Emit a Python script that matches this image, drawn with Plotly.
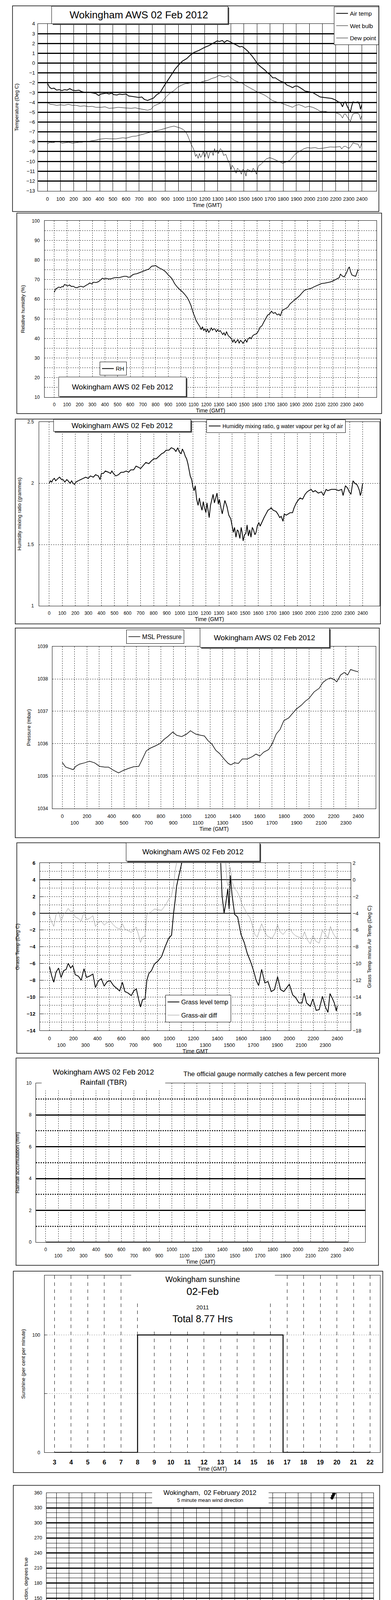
import plotly.graph_objects as go

# ====================== DATA ======================
# Panel 1: temperatures (time HHMM-style minutes axis 0..2400)
air_time = [0, 15, 30, 50, 70, 90, 110, 130, 150, 170, 190, 215, 240, 260, 290, 312, 330, 350, 370, 390,
            408, 430, 450, 470, 490, 504, 530, 550, 570, 600, 620, 650, 670, 697, 720, 740, 764, 790, 810, 831,
            860, 889, 920, 947, 975, 1005, 1030, 1062, 1090, 1120, 1150, 1178, 1200, 1236, 1255, 1274, 1295, 1313,
            1335, 1350, 1370, 1390, 1409, 1440, 1467, 1485, 1505, 1530, 1563, 1585, 1601, 1630, 1659, 1680, 1697,
            1720, 1740, 1755, 1780, 1803, 1830, 1850, 1871, 1890, 1909, 1940, 1967, 1990, 2025, 2050, 2082, 2110,
            2140, 2170, 2198, 2220, 2236, 2252, 2265, 2275, 2285, 2300, 2313, 2322, 2332, 2350, 2371, 2382, 2390, 2400]
air_temp = [-2.05, -2.45, -2.6, -2.55, -2.75, -2.7, -2.8, -2.7, -2.75, -2.6, -2.75, -2.8, -2.75, -2.9, -3.0, -2.95,
            -3.0, -3.05, -3.1, -3.3, -3.15, -3.1, -3.05, -3.15, -3.05, -3.2, -3.25, -3.15, -3.2, -3.15, -3.35, -3.4,
            -3.45, -3.5, -3.45, -3.7, -3.8, -3.65, -3.55, -3.25, -3.0, -2.35, -1.7, -1.15, -0.6, -0.13, 0.2, 0.45,
            0.8, 1.1, 1.25, 1.45, 1.6, 1.8, 1.95, 2.1, 2.25, 2.2, 2.3, 2.1, 2.3, 2.2, 2.05, 1.85, 1.65, 1.7, 1.5,
            1.2, 0.7, 0.3, -0.05, -0.4, -0.7, -1.0, -1.15, -1.5, -1.5, -1.65, -1.85, -1.95, -2.25, -2.35, -2.5,
            -2.35, -2.35, -2.6, -2.85, -2.9, -3.0, -3.2, -3.45, -3.5, -3.55, -3.6, -3.75, -3.95, -4.0, -4.45, -4.0,
            -3.95, -4.3, -4.7, -4.95, -4.4, -3.95, -4.0, -3.95, -4.2, -4.7, -4.2]
wet_time = [0, 20, 42, 70, 100, 129, 160, 190, 215, 250, 280, 312, 340, 370, 408, 440, 470, 504, 540, 570, 600,
            640, 670, 697, 730, 764, 790, 812, 840, 870, 890, 908, 940, 966, 995, 1024, 1050, 1082, 1110, 1139,
            1170, 1197, 1225, 1255, 1285, 1313, 1330, 1351, 1380, 1400, 1428, 1460, 1486, 1515, 1544, 1575, 1601,
            1630, 1659, 1690, 1717, 1745, 1774, 1800, 1832, 1851, 1871, 1895, 1919, 1945, 1967, 1995, 2025, 2050,
            2082, 2110, 2140, 2170, 2198, 2220, 2236, 2252, 2265, 2275, 2290, 2313, 2322, 2332, 2350, 2371, 2382,
            2390, 2400]
wet_bulb = [-4.0, -4.2, -4.22, -4.3, -4.25, -4.29, -4.2, -4.3, -4.29, -4.4, -4.35, -4.43, -4.4, -4.5, -4.5, -4.45,
            -4.6, -4.57, -4.5, -4.55, -4.57, -4.6, -4.55, -4.63, -4.7, -4.8, -4.7, -4.36, -4.2, -4.02, -3.7, -3.4,
            -3.0, -2.79, -2.45, -2.24, -2.1, -2.04, -2.0, -2.04, -1.95, -1.83, -1.75, -1.56, -1.45, -1.22, -1.35,
            -1.42, -1.29, -1.5, -1.77, -1.95, -2.04, -2.3, -2.52, -2.75, -2.93, -3.1, -3.27, -3.55, -3.81, -3.95,
            -4.02, -4.15, -4.29, -4.4, -4.5, -4.3, -4.22, -4.35, -4.5, -4.4, -4.5, -4.65, -4.91, -4.9, -4.97, -5.0,
            -5.04, -5.15, -5.25, -5.59, -5.2, -5.18, -5.5, -5.93, -5.5, -5.18, -5.1, -5.11, -5.3, -5.73, -5.32]
dew_time = [0, 20, 40, 62, 90, 110, 139, 160, 190, 215, 240, 265, 293, 320, 345, 370, 395, 420, 446, 470, 500, 523,
            550, 575, 600, 625, 650, 677, 700, 725, 754, 780, 805, 831, 860, 885, 908, 935, 966, 990, 1014, 1035,
            1053, 1068, 1082, 1095, 1110, 1120, 1130, 1139, 1150, 1160, 1170, 1178, 1190, 1200, 1216, 1228, 1240,
            1255, 1265, 1275, 1285, 1293, 1305, 1320, 1332, 1345, 1361, 1375, 1390, 1400, 1410, 1428, 1440, 1450,
            1467, 1480, 1492, 1505, 1515, 1525, 1544, 1560, 1570, 1582, 1595, 1611, 1630, 1649, 1670, 1697, 1715,
            1736, 1755, 1774, 1795, 1813, 1830, 1851, 1870, 1890, 1915, 1938, 1960, 1986, 2010, 2044, 2070, 2102,
            2130, 2159, 2190, 2217, 2235, 2246, 2260, 2275, 2290, 2304, 2320, 2332, 2350, 2371, 2386, 2400]
dew_point = [-8.2, -8.05, -8.1, -8.02, -8.0, -8.15, -8.1, -8.05, -8.15, -8.1, -8.05, -8.05, -7.98, -7.95, -7.9,
             -7.84, -7.75, -7.7, -7.67, -7.7, -7.72, -7.71, -7.65, -7.6, -7.64, -7.55, -7.45, -7.43, -7.35, -7.25,
             -7.16, -7.05, -6.95, -6.89, -6.8, -6.7, -6.61, -6.5, -6.41, -6.5, -6.61, -6.75, -6.96, -7.3, -7.78,
             -8.2, -8.6, -8.9, -9.5, -9.28, -9.7, -9.2, -9.6, -9.42, -9.0, -9.6, -9.0, -9.7, -9.1, -9.0, -9.4, -8.7,
             -9.1, -8.87, -9.2, -8.7, -8.87, -9.4, -9.28, -9.8, -10.23, -10.9, -10.4, -10.78, -11.2, -10.7, -10.92,
             -11.3, -10.8, -10.99, -11.5, -10.8, -10.92, -11.1, -10.7, -10.92, -11.3, -10.44, -10.3, -10.03, -9.75,
             -9.62, -9.7, -9.82, -9.95, -10.03, -10.2, -10.1, -10.0, -9.89, -9.6, -9.28, -9.05, -8.87, -8.7, -8.6,
             -8.65, -8.6, -8.7, -8.66, -8.6, -8.53, -8.55, -8.53, -8.5, -8.74, -8.5, -8.46, -8.6, -8.66, -8.4, -8.12,
             -8.2, -8.25, -8.66, -8.12]

# Panel 2: relative humidity
rh_time = [0, 10, 20, 35, 50, 60, 70, 80, 90, 105, 120, 135, 150, 165, 180, 195, 210, 230, 250, 265, 280, 295, 310,
           330, 350, 365, 380, 395, 410, 430, 450, 470, 490, 510, 530, 550, 570, 585, 600, 615, 630, 650, 670, 690,
           710, 730, 750, 760, 770, 785, 800, 815, 830, 850, 870, 885, 900, 915, 930, 950, 970, 990, 1010, 1030,
           1050, 1065, 1080, 1090, 1100, 1110, 1120, 1135, 1150, 1160, 1170, 1180, 1190, 1200, 1210, 1220, 1230,
           1240, 1250, 1260, 1270, 1280, 1290, 1300, 1310, 1320, 1330, 1340, 1350, 1360, 1370, 1380, 1390, 1400,
           1410, 1420, 1430, 1440, 1450, 1460, 1470, 1480, 1490, 1500, 1510, 1520, 1530, 1545, 1555, 1565, 1580,
           1595, 1610, 1625, 1640, 1655, 1670, 1685, 1700, 1715, 1730, 1745, 1760, 1775, 1785, 1800, 1820, 1845,
           1860, 1880, 1900, 1920, 1940, 1960, 1975, 1990, 2010, 2030, 2050, 2070, 2090, 2110, 2135, 2160, 2180,
           2200, 2220, 2240, 2250, 2260, 2275, 2290, 2300, 2310, 2320, 2330, 2340, 2350, 2365, 2380, 2390, 2400]
rh_value = [63.5, 65.2, 65.6, 66.2, 65.9, 66.5, 66.3, 67.5, 67.3, 66.8, 67.3, 66.5, 66.6, 66.0, 65.9, 66.4, 66.6,
            66.2, 67.1, 67.6, 68.3, 67.8, 68.7, 68.5, 69.0, 69.8, 70.7, 70.4, 70.7, 70.3, 70.5, 70.9, 71.1, 71.0,
            71.4, 71.7, 71.7, 71.2, 71.4, 72.3, 72.8, 73.0, 73.5, 74.0, 74.5, 75.1, 75.5, 76.3, 76.9, 77.0, 77.2,
            76.5, 75.9, 75.3, 74.5, 73.6, 72.4, 71.5, 70.4, 68.0, 66.3, 65.0, 63.9, 62.5, 60.8, 59.0, 56.7, 54.5,
            52.5, 51.0, 49.1, 47.5, 46.0, 44.5, 46.0, 44.0, 45.0, 43.2, 44.8, 43.0, 44.0, 45.5, 44.2, 45.0, 44.7,
            43.3, 44.5, 43.5, 44.0, 43.0, 42.0, 42.9, 41.5, 43.5, 41.9, 41.0, 40.5, 39.8, 38.0, 39.5, 37.8, 38.5,
            39.5, 37.5, 39.0, 38.5, 37.5, 38.5, 39.5, 38.0, 39.8, 40.5, 39.8, 41.2, 42.0, 42.3, 43.5, 45.7, 46.5,
            48.4, 50.2, 51.9, 52.5, 53.9, 52.8, 53.2, 52.0, 52.5, 51.5, 54.3, 55.0, 56.0, 57.5, 58.7, 59.8, 60.8,
            62.0, 63.5, 64.5, 64.9, 65.2, 65.6, 66.3, 66.9, 67.5, 68.0, 68.2, 68.5, 68.8, 69.3, 70.0, 70.7, 71.0,
            72.8, 71.8, 71.4, 72.5, 73.8, 75.5, 76.5, 74.0, 72.4, 72.0, 71.7, 73.5, 75.2]

# Panel 3: humidity mixing ratio (g/kg)
mix_time = [0, 10, 20, 29, 40, 50, 68, 80, 95, 106, 120, 135, 145, 160, 172, 183, 195, 205, 222, 240, 261, 280, 299,
            315, 338, 355, 376, 390, 400, 415, 430, 454, 470, 480, 492, 510, 531, 550, 569, 590, 608, 625, 647, 665,
            685, 700, 724, 740, 763, 780, 801, 820, 840, 860, 878, 895, 917, 935, 956, 970, 985, 994, 1010, 1020,
            1033, 1042, 1052, 1062, 1071, 1080, 1091, 1100, 1110, 1118, 1129, 1140, 1150, 1158, 1170, 1180, 1187,
            1200, 1208, 1216, 1225, 1235, 1245, 1255, 1265, 1274, 1285, 1295, 1303, 1315, 1325, 1332, 1345, 1361,
            1375, 1390, 1400, 1410, 1419, 1430, 1440, 1448, 1460, 1470, 1477, 1485, 1495, 1506, 1515, 1525, 1535,
            1545, 1555, 1564, 1575, 1584, 1593, 1605, 1615, 1631, 1645, 1660, 1675, 1690, 1699, 1715, 1737, 1750,
            1765, 1776, 1790, 1800, 1815, 1830, 1845, 1863, 1875, 1892, 1905, 1921, 1940, 1959, 1975, 1988, 2005,
            2020, 2037, 2060, 2085, 2100, 2120, 2133, 2160, 2191, 2215, 2239, 2250, 2268, 2285, 2297, 2310, 2326,
            2340, 2355, 2365, 2375, 2382, 2388, 2400]
mix_ratio = [2.0, 2.02, 2.01, 2.03, 2.04, 2.02, 2.04, 2.05, 2.03, 2.03, 2.01, 2.03, 2.02, 2.0, 2.02, 2.0, 1.99, 2.01,
             2.02, 2.03, 2.04, 2.05, 2.04, 2.06, 2.05, 2.07, 2.06, 2.03, 2.08, 2.08, 2.1, 2.09, 2.08, 2.1, 2.08, 2.06,
             2.07, 2.09, 2.09, 2.1, 2.09, 2.11, 2.11, 2.14, 2.13, 2.12, 2.15, 2.17, 2.16, 2.18, 2.2, 2.2, 2.22, 2.24,
             2.25, 2.27, 2.27, 2.29, 2.28, 2.26, 2.29, 2.26, 2.24, 2.28, 2.25, 2.22, 2.2, 2.16, 2.11, 2.06, 2.03,
             1.97, 1.94, 1.98, 1.87, 1.82, 1.88, 1.83, 1.78, 1.85, 1.81, 1.76, 1.84, 1.79, 1.72, 1.82, 1.87, 1.91,
             1.84, 1.88, 1.92, 1.83, 1.87, 1.8, 1.75, 1.79, 1.86, 1.81, 1.74, 1.71, 1.66, 1.6, 1.64, 1.56, 1.62,
             1.61, 1.55, 1.64, 1.6, 1.53, 1.58, 1.59, 1.66, 1.57, 1.62, 1.56, 1.64, 1.62, 1.58, 1.6, 1.65, 1.68,
             1.65, 1.69, 1.72, 1.75, 1.78, 1.79, 1.8, 1.78, 1.77, 1.75, 1.72, 1.73, 1.69, 1.75, 1.74, 1.75, 1.76,
             1.76, 1.8, 1.84, 1.86, 1.88, 1.87, 1.91, 1.93, 1.94, 1.95, 1.93, 1.94, 1.92, 1.93, 1.9, 1.95, 1.94,
             1.95, 1.95, 1.94, 1.95, 1.9, 1.98, 1.96, 1.93, 1.91, 2.02, 2.0, 1.99, 1.97, 1.94, 1.9, 1.92, 2.0]

# Panel 4: MSL pressure (mbar)
pres_time = [0, 27, 57, 88, 108, 139, 180, 221, 262, 303, 344, 374, 415, 456, 497, 538, 579, 620, 650, 681, 712,
             753, 794, 824, 855, 896, 927, 968, 1009, 1039, 1080, 1121, 1152, 1183, 1213, 1244, 1275, 1316, 1346,
             1367, 1397, 1428, 1459, 1500, 1540, 1571, 1602, 1633, 1673, 1704, 1735, 1766, 1796, 1837, 1868, 1898,
             1939, 1970, 2001, 2042, 2083, 2113, 2144, 2175, 2205, 2226, 2257, 2287, 2314, 2338, 2369, 2400]
msl_pressure = [1035.42, 1035.28, 1035.24, 1035.2, 1035.3, 1035.37, 1035.41, 1035.46, 1035.41, 1035.3, 1035.28,
                1035.28, 1035.18, 1035.1, 1035.18, 1035.24, 1035.29, 1035.3, 1035.53, 1035.78, 1035.86, 1035.93,
                1036.01, 1036.13, 1036.22, 1036.36, 1036.26, 1036.22, 1036.3, 1036.4, 1036.3, 1036.26, 1036.24,
                1036.09, 1035.99, 1035.8, 1035.7, 1035.51, 1035.39, 1035.35, 1035.41, 1035.39, 1035.53, 1035.53,
                1035.6, 1035.68, 1035.62, 1035.74, 1035.82, 1036.01, 1036.3, 1036.44, 1036.71, 1036.8, 1036.94,
                1037.07, 1037.19, 1037.31, 1037.4, 1037.6, 1037.71, 1037.89, 1037.98, 1038.03, 1037.98, 1037.91,
                1038.12, 1038.2, 1038.12, 1038.29, 1038.25, 1038.22]

# Panel 5: grass temperature and grass minus air
grass_time = [0, 19, 36, 55, 76, 97, 118, 139, 156, 177, 194, 215, 240, 265, 288, 309, 334, 362, 383, 408, 433, 456,
              482, 507, 534, 560, 585, 608, 629, 654, 682, 703, 724, 745, 759, 776, 797, 812, 829, 850, 875, 902, 934,
              965, 993, 1018, 1035, 1050, 1060, 1077, 1092, 1102, 1150, 1250, 1350, 1410, 1428, 1439, 1456, 1470,
              1487, 1498, 1508, 1523, 1544, 1569, 1597, 1624, 1649, 1676, 1702, 1723, 1744, 1769, 1796, 1822, 1849,
              1876, 1902, 1927, 1954, 1979, 2000, 2028, 2053, 2080, 2106, 2123, 2144, 2175, 2196, 2224, 2249, 2276,
              2301, 2322, 2339, 2356, 2375, 2392, 2400]
grass_temp = [-6.38, -7.5, -8.23, -7.02, -6.54, -7.66, -6.86, -6.7, -5.98, -6.54, -6.22, -7.34, -7.5, -7.99, -6.62,
              -7.66, -7.5, -7.26, -8.87, -8.07, -7.82, -8.7, -8.15, -8.07, -8.63, -8.95, -9.27, -8.23, -9.35, -9.51,
              -9.83, -9.27, -9.03, -10.39, -11.19, -10.31, -10.23, -7.99, -7.18, -6.86, -6.06, -5.74, -5.18, -3.98,
              -3.01, -2.61, 0.03, 1.8, 3.24, 4.36, 5.33, 6.0, 9.0, 12.0, 11.0, 8.0, 6.0, 2.12, 0.03, 1.16, 2.92,
              0.51, 4.52, 2.12, -0.13, -0.45, -2.53, -3.49, -4.78, -5.74, -6.86, -7.99, -8.63, -6.7, -8.31, -8.15,
              -9.35, -9.11, -7.58, -9.11, -9.35, -8.87, -8.47, -9.75, -10.07, -10.71, -10.71, -9.51, -10.71, -11.11,
              -10.23, -11.59, -11.51, -9.91, -11.19, -11.83, -9.59, -10.07, -10.71, -11.67, -11.03]
diff_time = [0, 19, 36, 55, 76, 97, 118, 139, 156, 177, 194, 215, 240, 265, 288, 309, 334, 362, 383, 408, 433, 456,
             482, 507, 534, 560, 585, 608, 629, 654, 682, 703, 724, 745, 759, 776, 797, 812, 829, 850, 875, 902, 934,
             965, 993, 1018, 1035, 1050, 1060, 1150, 1300, 1420, 1470, 1481, 1491, 1508, 1523, 1544, 1565, 1586,
             1607, 1628, 1649, 1670, 1691, 1712, 1733, 1754, 1769, 1792, 1813, 1834, 1855, 1881, 1902, 1923, 1948,
             1975, 2003, 2028, 2053, 2080, 2106, 2127, 2150, 2175, 2196, 2221, 2249, 2276, 2301, 2322, 2343, 2364,
             2385, 2400]
grass_air_diff = [-4.29, -5.09, -5.57, -4.13, -3.81, -4.93, -4.13, -3.81, -3.41, -3.81, -3.73, -4.45, -4.61, -4.93,
                  -3.81, -4.77, -4.61, -4.29, -5.57, -5.09, -4.93, -5.41, -5.09, -4.93, -5.41, -5.73, -5.89, -5.25,
                  -5.89, -6.05, -6.29, -5.97, -5.65, -6.69, -7.49, -6.85, -6.69, -4.13, -3.97, -3.81, -3.49, -3.57,
                  -3.65, -3.08, -2.36, -1.88, -0.6, 1.33, 2.0, 4.0, 5.0, 4.0, 2.0, -0.28, -0.76, 1.49, -0.28, -1.08,
                  -1.4, -2.04, -3.0, -3.49, -4.13, -4.45, -5.41, -6.53, -6.85, -5.89, -5.25, -6.05, -6.69, -6.85,
                  -7.01, -6.37, -5.41, -6.21, -6.53, -6.05, -5.81, -6.37, -6.69, -6.85, -7.01, -6.21, -7.17, -7.65,
                  -6.69, -7.33, -7.57, -6.05, -6.53, -7.01, -5.57, -6.37, -6.85, -6.93]

# Panel 6: rainfall accumulation (mm)
rain_time = [0, 2400]
rain_mm = [0, 0]

# Panel 7: sunshine (hours, per cent per minute)
sun_hour = [3, 8, 16.76, 22]
sun_pct = [0, 100, 0, 0]

# Panel 8: wind direction (hours, degrees)
dir_hour = [0.0, 0.17, 0.33, 0.5, 0.67, 0.83, 1.0, 1.17, 1.33, 1.5, 1.67, 1.83, 2.0, 2.17, 2.33, 2.5, 2.67, 2.83,
            3.0, 3.17, 3.33, 3.5, 3.67, 3.83, 4.0, 4.17, 4.33, 4.5, 4.67, 4.83, 5.0, 5.17, 5.33, 5.5, 5.67, 5.83,
            6.0, 6.17, 6.33, 6.5, 6.67, 6.83, 7.0, 7.17, 7.33, 7.5, 7.67, 7.83, 8.0, 8.17, 8.33, 8.5, 8.67, 8.83,
            9.0, 9.17, 9.33, 9.5, 9.67, 9.83, 10.0, 10.17, 10.33, 10.5, 10.67, 10.83, 11.0, 11.17, 11.33, 11.5,
            11.67, 11.83, 12.0, 12.17, 12.33, 12.5, 12.67, 12.83, 13.0, 13.17, 13.33, 13.5, 13.67, 13.83, 14.0,
            14.17, 14.33, 14.5, 14.67, 14.83, 15.0, 15.17, 15.33, 15.5, 15.67, 15.83, 16.0, 16.17, 16.33, 16.5,
            16.67, 16.83, 17.0, 17.17, 17.33, 17.5, 17.67, 17.83, 18.0, 18.17, 18.33, 18.5, 18.67, 18.83, 19.0,
            19.17, 19.33, 19.5, 19.67, 19.83, 20.0, 20.17, 20.33, 20.5, 20.67, 20.83, 21.0, 21.17, 21.33, 21.5,
            21.67, 21.83, 22.0, 22.17, 22.33, 22.5, 22.67, 22.83, 23.0, 23.17, 23.33, 23.5, 23.67, 23.83, 24.0,
            21.65, 21.72, 21.8]
dir_deg = [42, 33, 31, 34, 30, 29, 28, 27, 26, 29, 25, 31, 28, 26, 30, 28, 31, 27, 29, 28, 31, 29, 32, 30,
           35, 37, 35, 39, 36, 33, 37, 35, 38, 36, 34, 37, 35, 36, 33, 35, 34, 33, 35, 36, 34, 37, 33, 30,
           27, 28, 29, 28, 30, 32, 35, 39, 42, 44, 40, 38, 44, 50, 47, 55, 52, 50, 56, 54, 46, 57, 52, 49,
           53, 57, 48, 54, 44, 52, 56, 52, 58, 41, 55, 47, 51, 44, 47, 52, 58, 63, 67, 49, 48, 50, 48, 40,
           38, 36, 39, 35, 37, 33, 36, 34, 33, 37, 35, 33, 36, 34, 36, 35, 38, 42, 37, 34, 35, 34, 44, 47,
           46, 44, 40, 36, 34, 32, 27, 21, 13, 9, 4, 5, 9, 11, 8, 10, 4, 14, 24, 19, 16, 12, 9, 17, 10,
           350, 354, 358]

# Panel 9: wind speed (hours, knots)
mean_hour = [0.0, 0.12, 0.23, 0.46, 0.75, 1.04, 1.33, 1.52, 1.81, 2.0, 2.2, 2.49, 2.68, 2.97, 3.26, 3.55, 3.84,
             4.13, 4.42, 4.71, 5.0, 5.29, 5.58, 5.87, 6.15, 6.44, 6.73, 7.02, 7.31, 7.5, 7.79, 8.08, 8.37, 8.66,
             8.95, 9.24, 9.53, 9.82, 10.11, 10.4, 10.69, 10.98, 11.17, 11.46, 11.75, 12.04, 12.33, 12.52, 12.71,
             12.91, 13.2, 13.49, 13.78, 14.07, 14.35, 14.64, 14.93, 15.22, 15.51, 15.8, 16.09, 16.38, 16.67, 16.96,
             17.25, 17.54, 17.83, 18.12, 18.41, 18.7, 18.99, 19.27, 19.56, 19.85, 20.14, 20.43, 20.72, 21.01, 21.3,
             21.59, 21.88, 22.17, 22.46, 22.75, 23.04, 23.33, 23.62, 24.0]
mean_speed = [7.1, 8.0, 10.0, 11.2, 10.6, 10.2, 10.3, 9.2, 11.2, 10.6, 9.7, 10.0, 8.6, 10.3, 9.7, 10.3, 9.7, 10.3,
              9.7, 10.6, 10.0, 9.5, 10.3, 9.7, 9.2, 8.9, 9.7, 9.5, 9.7, 7.4, 6.8, 7.1, 7.7, 8.3, 10.0, 9.2, 9.5,
              9.7, 9.2, 12.1, 10.3, 10.6, 8.6, 10.3, 11.5, 10.9, 10.6, 9.5, 8.0, 10.9, 10.9, 9.7, 10.9, 11.5, 9.5,
              9.2, 9.7, 9.2, 8.3, 7.7, 7.1, 6.8, 8.3, 8.0, 8.3, 8.9, 9.2, 8.3, 6.6, 7.4, 6.8, 6.6, 6.0, 5.4, 5.4,
              4.8, 4.5, 4.2, 3.4, 3.7, 3.7, 3.7, 3.9, 4.5, 4.8, 4.2, 3.9, 3.9]
gust_hour = [h / 8 for h in range(0, 193)]  # 7.5-minute sampling of the gust trace
gust_speed = [14.5, 16.8, 12.0, 15.5, 13.5, 17.2, 12.5, 15.0,
              13.0, 16.5, 12.0, 14.5, 17.5, 13.0, 20.8, 12.5,
              14.0, 15.8, 12.0, 16.0, 13.5, 11.5, 15.5, 12.5,
              16.5, 12.0, 14.0, 13.0, 15.5, 11.0, 14.5, 12.5,
              13.5, 17.5, 11.5, 16.5, 12.5, 14.0, 11.0, 15.5,
              12.0, 16.0, 13.0, 14.5, 11.5, 15.0, 12.5, 14.0,
              11.5, 15.5, 12.0, 13.0, 10.5, 14.5, 12.0, 13.5,
              11.0, 14.5, 9.5, 12.0, 8.5, 11.5, 9.0, 13.0,
              9.5, 12.5, 10.0, 13.5, 11.0, 14.5, 10.5, 13.0,
              12.0, 15.5, 11.0, 14.5, 12.5, 16.0, 11.5, 17.0,
              12.5, 16.5, 13.5, 19.0, 12.0, 22.8, 14.0, 18.5,
              13.0, 17.5, 22.7, 12.5, 18.0, 14.0, 21.3, 13.5,
              16.5, 12.5, 19.3, 14.0, 17.0, 12.5, 18.5, 13.5,
              15.5, 20.0, 13.0, 17.5, 12.0, 16.5, 13.5, 18.0,
              12.5, 15.5, 11.5, 17.0, 13.0, 15.0, 11.0, 16.0,
              12.5, 14.5, 10.5, 15.5, 11.0, 13.5, 9.5, 14.0,
              10.0, 15.0, 9.5, 13.5, 10.5, 14.5, 9.0, 12.5,
              10.5, 16.7, 11.0, 13.5, 9.5, 12.5, 10.0, 14.0,
              9.5, 12.5, 8.5, 11.5, 9.0, 12.0, 15.8, 9.0,
              10.5, 8.0, 10.0, 7.5, 9.5, 7.0, 9.0, 6.5,
              8.5, 6.0, 8.0, 6.5, 7.5, 5.5, 7.5, 5.5,
              6.5, 5.0, 7.0, 4.5, 6.0, 5.0, 6.5, 4.5,
              5.5, 4.5, 6.0, 4.5, 5.5, 5.0, 6.5, 5.5,
              7.8, 5.5, 7.0, 6.0, 7.5, 5.0, 6.0, 5.0,
              5.5]
tenth_hour = [21.3, 21.35, 21.4, 21.45, 21.5, 21.52, 21.55, 21.6, 21.65, 21.68, 21.7, 21.75, 21.8, 21.85, 21.9,
              21.95, 22.0, 22.05, 22.1, 22.15, 22.2, 22.25, 22.3, 22.35, 22.4, 22.45, 22.5, 22.55, 22.6, 22.65,
              22.7, 23.45, 23.5, 23.55, 23.6, 23.65, 23.7, 23.75, 23.8, 23.85, 23.9]
tenth_speed = [39.3, 37.2, 36.0, 34.0, 38.0, 36.5, 35.0, 32.0, 31.2, 33.5, 34.5, 36.0, 37.5, 35.5, 38.5, 39.5,
               37.0, 35.5, 39.0, 38.0, 36.5, 37.5, 35.0, 38.5, 36.0, 34.0, 32.8, 37.0, 39.3, 38.2, 35.8, 39.5,
               38.5, 40.0, 37.5, 39.0, 36.0, 38.0, 37.0, 39.2, 38.4]

hhmm_ticks = list(range(0, 2401, 100))

# ====================== LAYOUT HELPERS ======================
W, H = 1000, 5000
OFF = 8  # page body margin of the browser; positions below are screen pixels
FONT = "Liberation Sans, Arial, sans-serif"


def px(x):
    return (x - OFF) / W


def py(y):
    return 1 - (y - OFF) / H


def dx(l, r):
    return [px(l), px(r)]


def dy(t, b):
    return [py(b), py(t)]


def tf(size=12, bold=False):
    d = dict(family=FONT, size=size, color="black")
    if bold:
        d["weight"] = "bold"
    return d


def base_axis(**kw):
    a = dict(showline=True, linecolor="black", linewidth=1, mirror=True, ticks="", zeroline=False,
             showgrid=True, gridcolor="black", gridwidth=1, tickfont=tf(12), fixedrange=True)
    a.update(kw)
    return a


def xaxis_base(**kw):
    kw.setdefault("tickangle", 0)
    return base_axis(**kw)


def stag(vals, step2):
    return [str(v) if (v % step2 == 0) else "<br>" + str(v) for v in vals]


shapes = []
annotations = []


def rect(l, t, r, b, line="black", fill=None, lw=1.2, layer="above"):
    d = dict(type="rect", xref="paper", yref="paper", x0=px(l), x1=px(r), y0=py(b), y1=py(t), layer=layer,
             line=dict(color=line, width=lw) if line else dict(width=0))
    if fill:
        d["fillcolor"] = fill
    shapes.append(d)


def box_shadow(l, t, r, b):
    rect(l + 3, t + 3, r + 3, b + 3, line=None, fill="#444444")
    rect(l, t, r, b, line="black", fill="white", lw=1)


def text(x, y, s, size, **kw):
    a = dict(xref="paper", yref="paper", x=px(x), y=py(y), text=s, showarrow=False,
             font=tf(size), xanchor="center", yanchor="middle")
    a.update(kw)
    annotations.append(a)


# frames around each panel
for fr in [(32, 8, 969, 536), (43, 540, 976, 1055), (39, 1069, 973, 1595), (39, 1605.5, 970, 2144),
           (43, 2157, 971, 2697.5), (41, 2709.6, 968, 3242), (34, 3257, 979, 3774), (34, 3807, 971, 4340),
           (35.5, 4346.5, 973, 4860)]:
    rect(*fr, line="black", lw=1.5, layer="below")

fig = go.Figure()

# ---------- Panel 1 ----------
fig.add_trace(go.Scatter(x=air_time, y=air_temp, mode="lines", name="Air temp", line=dict(color="black", width=2),
                         xaxis="x", yaxis="y", legend="legend", legendgroup="a"))
fig.add_trace(go.Scatter(x=wet_time, y=wet_bulb, mode="lines", name="Wet bulb", line=dict(color="black", width=1),
                         xaxis="x", yaxis="y", legend="legend", legendgroup="b"))
fig.add_trace(go.Scatter(x=dew_time, y=dew_point, mode="lines", name="Dew point", line=dict(color="black", width=1),
                         xaxis="x", yaxis="y", legend="legend", legendgroup="c"))
box_shadow(132, 9, 583, 54)
text(355, 31, "Wokingham AWS 02 Feb 2012", 26)

# ---------- Panel 2 ----------
fig.add_trace(go.Scatter(x=rh_time, y=rh_value, mode="lines", name="RH", line=dict(color="black", width=1.8),
                         xaxis="x2", yaxis="y2", legend="legend2"))
box_shadow(150, 961, 476, 1011)
text(313, 986, "Wokingham AWS 02 Feb 2012", 19)

# ---------- Panel 3 ----------
fig.add_trace(go.Scatter(x=mix_time, y=mix_ratio, mode="lines",
                         name="Humidity mixing ratio, g water vapour per kg of air",
                         line=dict(color="black", width=2), xaxis="x3", yaxis="y3", legend="legend3"))
box_shadow(137, 1069.7, 488, 1100.7)
text(312, 1086, "Wokingham AWS 02 Feb 2012", 19)

# ---------- Panel 4 ----------
fig.add_trace(go.Scatter(x=pres_time, y=msl_pressure, mode="lines", name="MSL Pressure",
                         line=dict(color="black", width=1.5), xaxis="x4", yaxis="y4", legend="legend4"))
box_shadow(511.6, 1605.5, 842.6, 1655.5)
text(676, 1630.7, "Wokingham AWS 02 Feb 2012", 19)

# ---------- Panel 5 ----------
fig.add_trace(go.Scatter(x=grass_time, y=grass_temp, mode="lines", name="Grass level temp",
                         line=dict(color="black", width=2), xaxis="x5", yaxis="y5", legend="legend5",
                         legendgroup="g1"))
fig.add_trace(go.Scatter(x=diff_time, y=grass_air_diff, mode="lines", name="Grass-air diff",
                         line=dict(color="#8c8c8c", width=1), xaxis="x5", yaxis="y10", legend="legend5",
                         legendgroup="g2"))
box_shadow(322.6, 2157, 664.5, 2204)
text(493.5, 2180, "Wokingham AWS 02 Feb 2012", 19)

# ---------- Panel 6 ----------
fig.add_trace(go.Scatter(x=rain_time, y=rain_mm, mode="lines", name="Rainfall", showlegend=False,
                         line=dict(color="black", width=2.5), xaxis="x6", yaxis="y6"))
rect(106.5, 2712, 422.6, 2793, line=None, fill="white")
text(264.5, 2746, "Wokingham AWS 02 Feb 2012", 19)
text(264.5, 2772, "Rainfall (TBR)", 19)
text(677, 2751, "The official gauge normally catches a few percent more", 17)

# ---------- Panel 7 ----------
fig.add_trace(go.Scatter(x=sun_hour, y=sun_pct, mode="lines", line_shape="hv", name="Sunshine", showlegend=False,
                         line=dict(color="black", width=2.5), xaxis="x7", yaxis="y7"))
rect(335.5, 3262, 703, 3332, line=None, fill="white")
rect(372, 3262, 670, 3410.7, line=None, fill="white")
text(518, 3278, "Wokingham sunshine", 20)
text(518, 3309, "02-Feb", 26)
text(518, 3350, "2011", 15)
text(518, 3379, "Total 8.77 Hrs", 25)

# ---------- Panel 8 ----------
fig.add_trace(go.Scatter(x=dir_hour, y=dir_deg, mode="markers", name="Direction", showlegend=False,
                         marker=dict(symbol="diamond", size=8, color="black"), xaxis="x8", yaxis="y8"))
rect(389, 3812, 687, 3863, line=None, fill="white")
text(537, 3826, "Wokingham,  02 February 2012", 17)
text(537, 3845, "5 minute mean wind direction", 13)

# ---------- Panel 9 ----------
fig.add_trace(go.Scatter(x=gust_hour, y=gust_speed, mode="lines", name="Gust", showlegend=False,
                         line=dict(color="#555555", width=1), xaxis="x9", yaxis="y9"))
fig.add_trace(go.Scatter(x=mean_hour, y=mean_speed, mode="lines", name="Speed x 1",
                         line=dict(color="black", width=2), xaxis="x9", yaxis="y9", legend="legend6"))
fig.add_trace(go.Scatter(x=tenth_hour, y=tenth_speed, mode="markers", name="Speed / 10",
                         marker=dict(symbol="diamond", size=7, color="#cfcfcf", line=dict(color="#444444", width=1)),
                         xaxis="x9", yaxis="y11", legend="legend6"))
rect(101, 4350, 444, 4392, line=None, fill="white")
text(271, 4369.5, "Wokingham,  02 February 2012", 19)
text(585, 4358, "Wind speed, 10 min mean / max gust", 14)
text(585, 4376, "Speeds below 4 kt shown at x10 scale", 14)
rect(745, 4355, 972, 4381.6, line=None, fill="#444444")

# ====================== AXES ======================
dot = dict(griddash="dot", gridcolor="#222222", gridwidth=1)
minor_dot = lambda d: dict(dtick=d, showgrid=True, griddash="dot", gridcolor="#222222")
layout_axes = {}
# Panel 1
layout_axes["xaxis"] = xaxis_base(domain=dx(97, 963), anchor="y", range=[-73, 2512], tickvals=hhmm_ticks,
                                  ticklabelstandoff=9, tickfont=tf(13),
                                  title=dict(text="Time (GMT)", font=tf(14), standoff=4))
layout_axes["yaxis"] = base_axis(domain=dy(54, 483), anchor="x", range=[-13, 4], dtick=1, gridwidth=2.5,
                                 ticklabelstandoff=4, tickfont=tf(13),
                                 title=dict(text="Temperature (Deg C)", font=tf(13), standoff=16))
# Panel 2
layout_axes["xaxis2"] = xaxis_base(domain=dx(114, 963), anchor="y2", range=[-77, 2545], tickvals=hhmm_ticks,
                                   ticklabelstandoff=8, **dot,
                                   title=dict(text="Time (GMT)", font=tf(14), standoff=3))
layout_axes["yaxis2"] = base_axis(domain=dy(560, 1013), anchor="x2", range=[10, 100], dtick=10,
                                  ticklabelstandoff=9, **dot, minor=minor_dot(5),
                                  title=dict(text="Relative humidity (%)", font=tf(13), standoff=15))
# Panel 3
layout_axes["xaxis3"] = xaxis_base(domain=dx(100, 971), anchor="y3", range=[-77, 2530], tickvals=hhmm_ticks,
                                   ticklabelstandoff=8, **dot,
                                   title=dict(text="Time (GMT)", font=tf(14), standoff=3))
layout_axes["yaxis3"] = base_axis(domain=dy(1076.5, 1548.6), anchor="x3", range=[1, 2.5], dtick=0.5,
                                  ticklabelstandoff=10, **dot,
                                  title=dict(text="Humidity mixing ratio (grammes)", font=tf(13), standoff=12))
# Panel 4
layout_axes["xaxis4"] = xaxis_base(domain=dx(134, 961), anchor="y4", range=[-80.5, 2542], tickvals=hhmm_ticks,
                                   ticktext=stag(hhmm_ticks, 200), ticklabelstandoff=8, tickfont=tf(13), **dot,
                                   title=dict(text="Time (GMT)", font=tf(14), standoff=3))
layout_axes["yaxis4"] = base_axis(domain=dy(1653, 2069), anchor="x4", range=[1034, 1039], dtick=1,
                                  ticklabelstandoff=8, tickformat="d", **dot,
                                  title=dict(text="Pressure (mbar)", font=tf(13), standoff=14))
# Panel 5
layout_axes["xaxis5"] = xaxis_base(domain=dx(102, 897), anchor="y5", range=[-80, 2512], tickvals=hhmm_ticks,
                                   ticktext=stag(hhmm_ticks, 200), ticklabelstandoff=8, tickfont=tf(13), **dot,
                                   title=dict(text="Time GMT", font=tf(14), standoff=2))
layout_axes["yaxis5"] = base_axis(domain=dy(2209, 2639), anchor="x5", range=[-14, 6], dtick=2,
                                  ticks="inside", ticklen=10, tickcolor="black", ticklabelstandoff=8,
                                  tickfont=tf(13, bold=True), **dot, zeroline=True, zerolinecolor="black",
                                  zerolinewidth=1.5, minor=minor_dot(1),
                                  title=dict(text="Grass Temp (Deg C)", font=tf(13), standoff=15))
layout_axes["yaxis10"] = dict(overlaying="y5", side="right", anchor="x5", range=[-18, 2], dtick=2,
                              showgrid=False, zeroline=True, zerolinecolor="black", zerolinewidth=2,
                              showline=False, ticks="", tickfont=tf(13), ticklabelstandoff=4, fixedrange=True,
                              title=dict(text="Grass Temp minus Air Temp (Deg C)", font=tf(13), standoff=16))
# Panel 6
layout_axes["xaxis6"] = xaxis_base(domain=dx(92, 934), anchor="y6", range=[-77, 2533], tickvals=hhmm_ticks,
                                   ticktext=stag(hhmm_ticks, 200), ticklabelstandoff=8, **dot,
                                   title=dict(text="Time (GMT)", font=tf(14), standoff=2))
layout_axes["yaxis6"] = base_axis(domain=dy(2774, 3182.5), anchor="x6", range=[0, 10], dtick=2,
                                  gridwidth=2.5, gridcolor="black", ticklabelstandoff=8, minor=minor_dot(1),
                                  title=dict(text="Rainfall accumulation (mm)", font=tf(13), standoff=14))
# Panel 7
layout_axes["xaxis7"] = xaxis_base(domain=dx(114, 972), anchor="y7", range=[2.4, 22.6],
                                   tickvals=list(range(3, 23)), griddash="dash", ticklabelstandoff=10,
                                   tickfont=tf(16, bold=True),
                                   title=dict(text="Time (GMT)", font=tf(14), standoff=4))
layout_axes["yaxis7"] = base_axis(domain=dy(3268, 3722.5), anchor="x7", range=[0, 150.6], tickvals=[0, 50, 100],
                                  ticktext=["0", "", "100"], ticks="inside", ticklen=6, tickcolor="black",
                                  griddash="dot", gridcolor="#9a9a9a", ticklabelstandoff=8,
                                  title=dict(text="Sunshine (per cent per minute)", font=tf(13), standoff=15))
# Panel 8
layout_axes["xaxis8"] = xaxis_base(domain=dx(119, 955), anchor="y8", range=[-0.78, 24.9],
                                   tickvals=list(range(0, 25)), ticklabelstandoff=8,
                                   title=dict(text="Time (GMT)", font=tf(14), standoff=3))
layout_axes["yaxis8"] = base_axis(domain=dy(3826, 4290), anchor="x8", range=[0, 360], dtick=30, gridwidth=2.5,
                                  ticklabelstandoff=8,
                                  minor=dict(dtick=10, showgrid=True, gridcolor="black", gridwidth=1),
                                  title=dict(text="Direction, degrees true", font=tf(13), standoff=13))
# Panel 9
hours9 = list(range(0, 25))
layout_axes["xaxis9"] = xaxis_base(domain=dx(95, 953.5), anchor="y9", range=[-0.75, 24.93], tickvals=hours9,
                                   ticktext=[("" if h == 24 else ("%02d:00" % h if h % 2 == 0 else "<br>%02d:00" % h))
                                             for h in hours9],
                                   ticklabelstandoff=8, **dot,
                                   title=dict(text="Time (GMT)", font=tf(14), standoff=2))
layout_axes["yaxis9"] = base_axis(domain=dy(4390.5, 4786), anchor="x9", range=[0, 50], dtick=10,
                                  ticklabelstandoff=8, **dot, minor=minor_dot(5),
                                  title=dict(text="Speed (knots)", font=tf(13), standoff=16))
layout_axes["yaxis11"] = dict(overlaying="y9", side="right", anchor="x9", range=[0, 50], tickvals=[0],
                              ticktext=["0"], showgrid=False, zeroline=False, showline=False, ticks="",
                              tickfont=tf(12, bold=True), ticklabelstandoff=8, fixedrange=True)

leg_common = dict(bgcolor="white", bordercolor="black", borderwidth=1, yanchor="top",
                  itemwidth=30, itemclick=False, itemdoubleclick=False)
legends = dict(
    legend=dict(x=px(969), y=py(10), xanchor="right", font=tf(15), tracegroupgap=9, **leg_common),
    legend2=dict(x=px(255), y=py(922), xanchor="left", font=tf(15), **leg_common),
    legend3=dict(x=px(528), y=py(1070), xanchor="left", font=tf(14), **leg_common),
    legend4=dict(x=px(322.6), y=py(1609.7), xanchor="left", font=tf(16), **leg_common),
    legend5=dict(x=px(422.6), y=py(2547.6), xanchor="left", font=tf(16), tracegroupgap=10, **leg_common),
    legend6=dict(x=px(969), y=py(4352), xanchor="right", font=tf(11), orientation="h", entrywidth=100,
                 entrywidthmode="pixels", **leg_common),
)

fig.update_layout(
    width=W, height=H, margin=dict(l=0, r=0, t=0, b=0, pad=0),
    paper_bgcolor="white", plot_bgcolor="white",
    font=dict(family=FONT, color="black"),
    showlegend=True,
    shapes=shapes, annotations=annotations,
    **layout_axes, **legends,
)

fig.write_html("out.html")
